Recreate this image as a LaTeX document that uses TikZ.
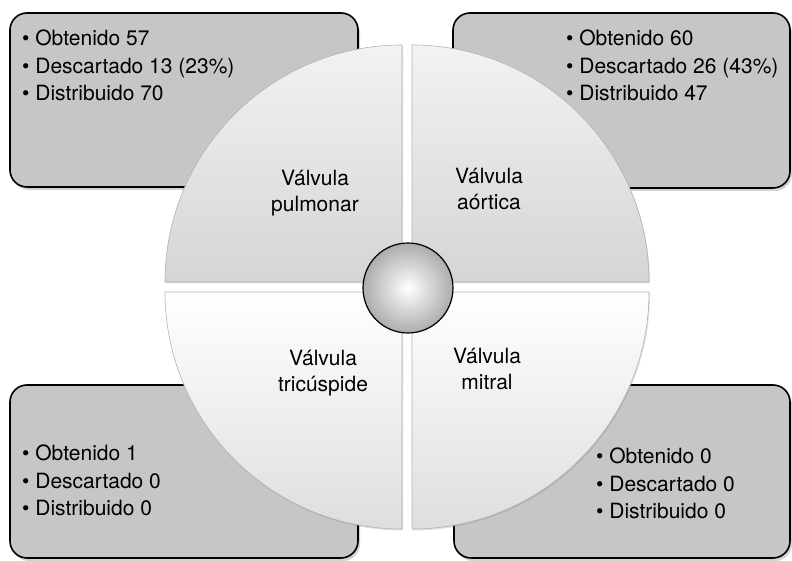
\documentclass[tikz,border=0pt]{standalone}
\usepackage{fontspec}
\setmainfont{TeX Gyre Heros}
\usetikzlibrary{shadows}

\tikzset{
    infobox/.style={draw=black, line width=1.6pt, rounded corners=17pt, fill=gray!45,
        drop shadow={opacity=0.35, shadow xshift=2pt, shadow yshift=-3pt}},
    infolist/.style={anchor=north west, inner sep=0pt, align=left, font=\fontsize{21}{27.5}\selectfont},
    quadlabel/.style={inner sep=0pt, align=center, font=\fontsize{21}{26}\selectfont},
    quadtop/.style={top color=gray!10, bottom color=gray!33, draw=gray!60, line width=0.6pt,
        drop shadow={opacity=0.25, shadow xshift=1pt, shadow yshift=-1.5pt}},
    quadbottom/.style={top color=white, bottom color=gray!26, draw=gray!60, line width=0.6pt,
        drop shadow={opacity=0.25, shadow xshift=1pt, shadow yshift=-1.5pt}}
}

\begin{document}
\begin{tikzpicture}[x=1pt, y=1pt]
                \useasboundingbox (0,0) rectangle (792,561);
                \node[infobox, minimum width=348pt, minimum height=174pt] (pulmbox) at (184,461) {};
                \node[infobox, minimum width=337pt, minimum height=175pt] (aortbox) at (621.5,460.5) {};
                \node[infobox, minimum width=348pt, minimum height=173pt] (tricbox) at (184,89.5) {};
                \node[infobox, minimum width=336pt, minimum height=173pt] (mitrbox) at (622,89.5) {};
                \node[infolist] (pulmlist) at (22,531.3) {\textbullet{} Obtenido 57\\\textbullet{} Descartado 13 (23\%)\\\textbullet{} Distribuido 70};
                \node[infolist] (aortlist) at (566,531.3) {\textbullet{} Obtenido 60\\\textbullet{} Descartado 26 (43\%)\\\textbullet{} Distribuido 47};
                \node[infolist] (triclist) at (22,116.3) {\textbullet{} Obtenido 1\\\textbullet{} Descartado 0\\\textbullet{} Distribuido 0};
                \node[infolist] (mitrlist) at (596,113.3) {\textbullet{} Obtenido 0\\\textbullet{} Descartado 0\\\textbullet{} Distribuido 0};
                \path[quadtop] (402,279) -- (165,279) arc[start angle=180, end angle=90, radius=237] -- cycle;
                \path[quadtop] (412,279) -- (412,516) arc[start angle=90, end angle=0, radius=237] -- cycle;
                \path[quadbottom] (402,269) -- (165,269) arc[start angle=180, end angle=270, radius=237] -- cycle;
                \path[quadbottom] (412,269) -- (412,32) arc[start angle=-90, end angle=0, radius=237] -- cycle;
                \node[quadlabel] (pulm) at (315,367.5) {Válvula\\pulmonar};
                \node[quadlabel] (aort) at (489,371.5) {Válvula\\aórtica};
                \node[quadlabel] (tric) at (323,187.5) {Válvula\\tricúspide};
                \node[quadlabel] (mitr) at (487,192) {Válvula\\mitral};
                \node[circle, draw=black, line width=1.2pt, minimum size=90pt, inner color=white, outer color=gray!65] (hub) at (408,273) {};
            \end{tikzpicture}
\end{document}
